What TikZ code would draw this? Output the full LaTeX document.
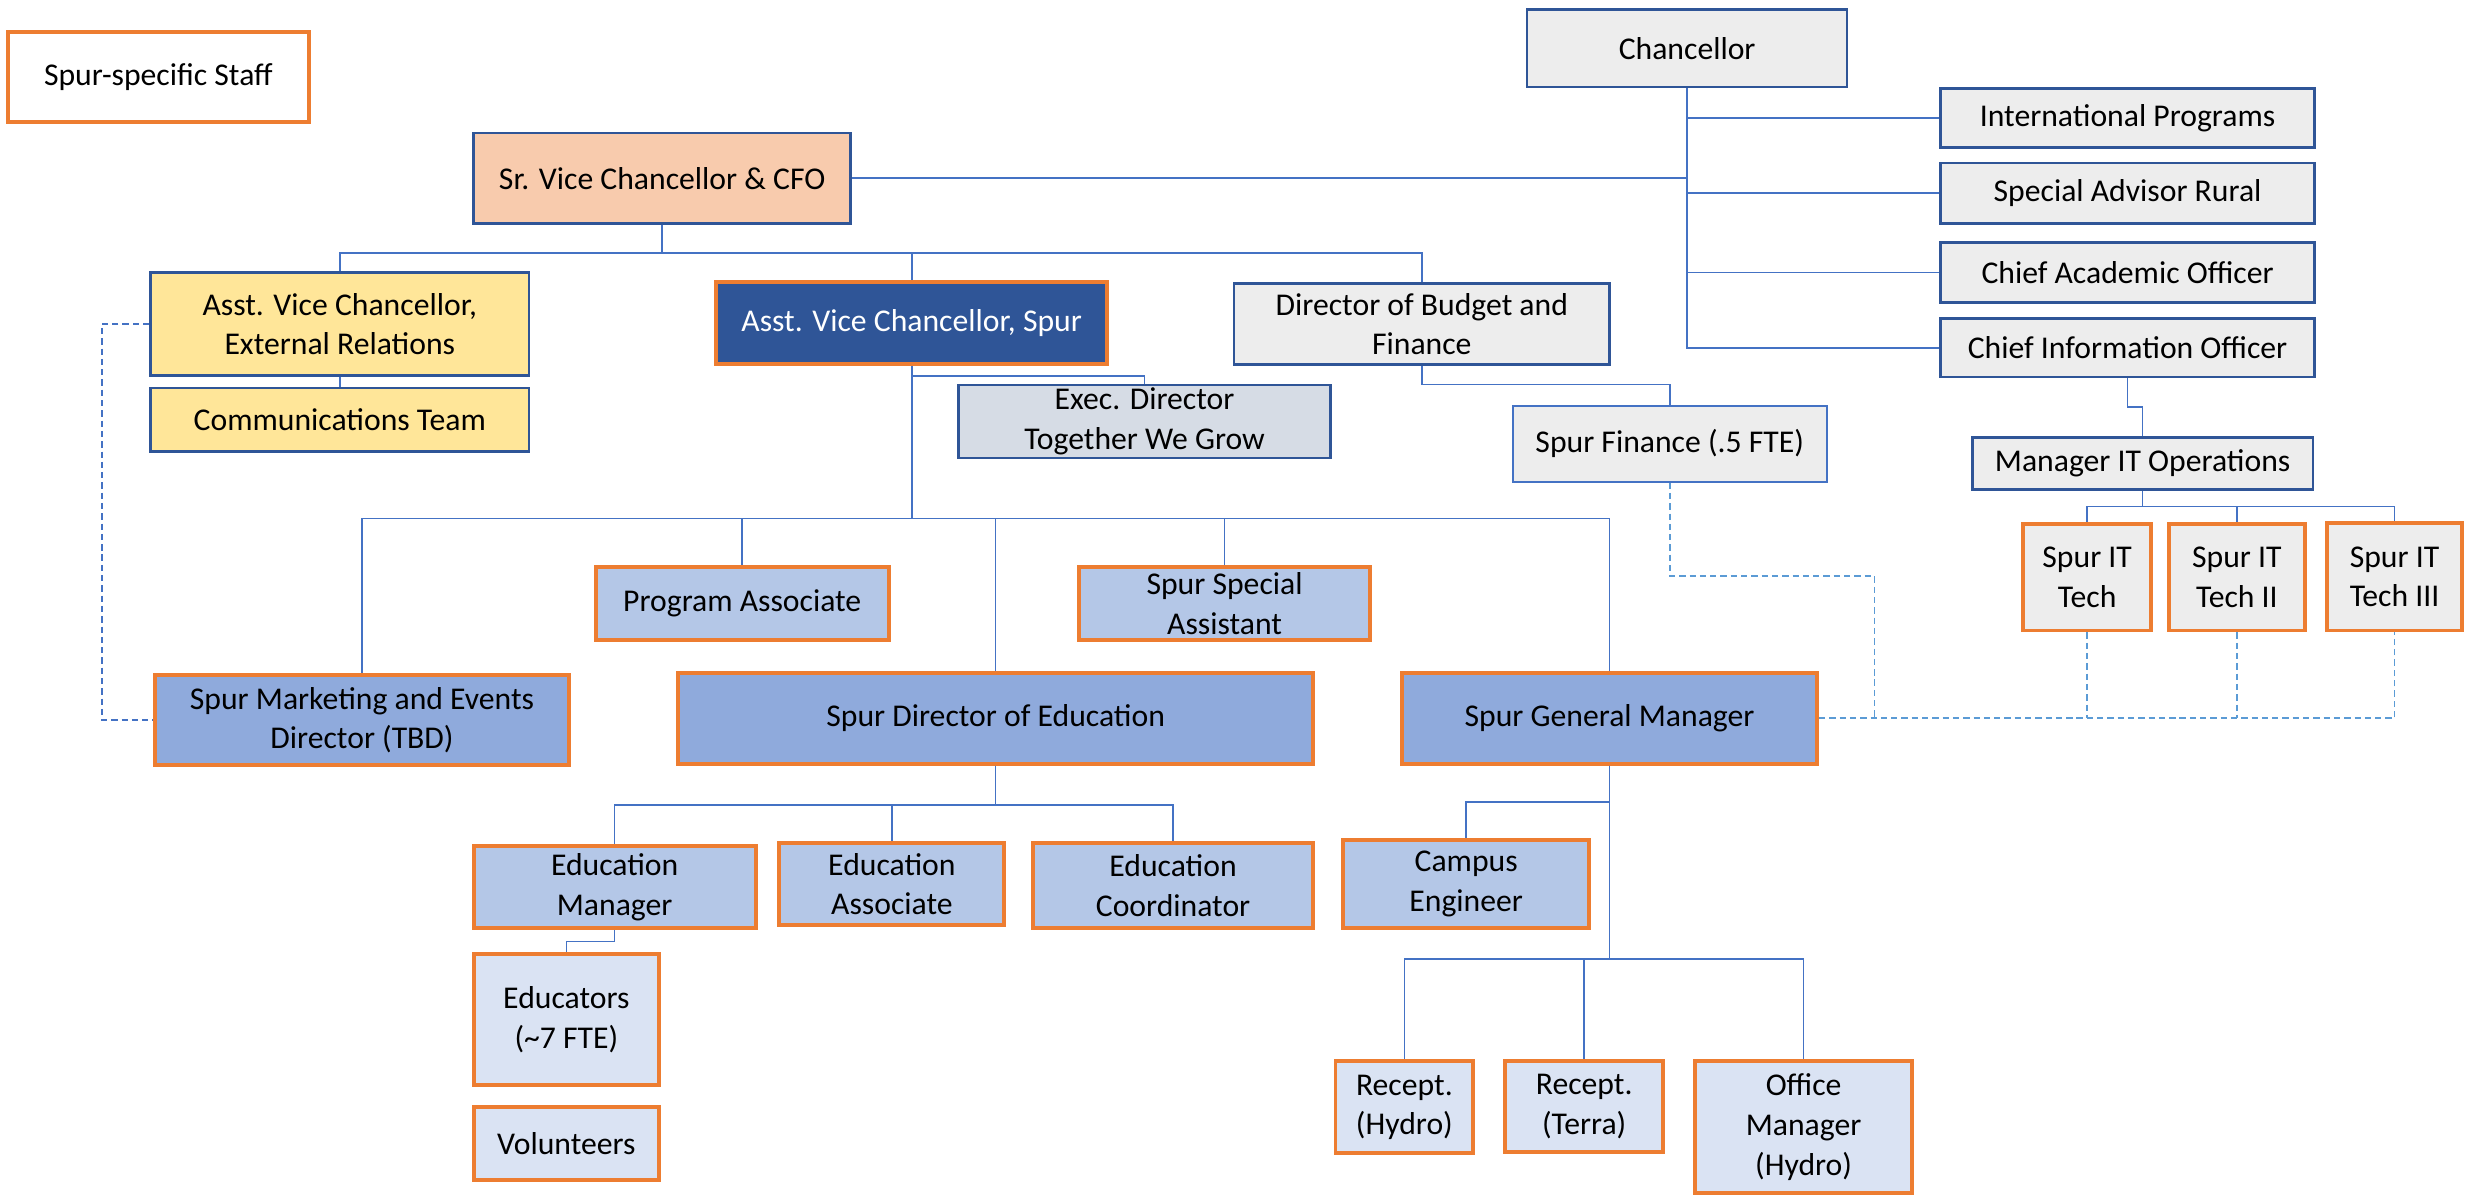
\documentclass[tikz,border=0pt]{standalone}
\usepackage{fontspec}
\setmainfont{Carlito}
\definecolor{dkb}{HTML}{2F5597}
\definecolor{org}{HTML}{ED7D31}
\definecolor{ln}{HTML}{4472C4}
\definecolor{dl}{HTML}{5B9BD5}
\definecolor{gry}{HTML}{EDEDED}
\definecolor{peach}{HTML}{F8CBAD}
\definecolor{yel}{HTML}{FFE699}
\definecolor{bA}{HTML}{8FAADC}
\definecolor{bB}{HTML}{B4C7E7}
\definecolor{bC}{HTML}{DAE3F3}
\definecolor{edc}{HTML}{D6DCE5}
\definecolor{navy}{HTML}{2F5597}
\tikzset{
 box/.style={draw, align=center, inner sep=0pt, font=\fontsize{20}{25}\selectfont},
 blueb/.style={box, draw=dkb, line width=1.6pt},
 finb/.style={box, draw=ln, line width=1.3pt},
 orgb/.style={box, draw=org, line width=2.5pt},
 conn/.style={draw=ln, line width=1pt},
 dconn/.style={draw=dl, line width=1.2pt, dash pattern=on 4pt off 2.5pt},
}
\newcommand\bx[7]{\node[#6, minimum width={(#4)-(#2)}, minimum height={(#5)-(#3)}] (#1) at ({((#2)+(#4))/2},{((#3)+(#5))/2}) {#7};}
\begin{document}
\begin{tikzpicture}[x=1pt,y=-1pt]
\useasboundingbox[fill=white] (0,0) rectangle (1568,755);
\bx{leg}{5}{20}{195}{77}{orgb, fill=white}{Spur-specific Staff}
\bx{chan}{964}{6}{1166}{55}{blueb, fill=gry}{Chancellor}
\bx{ip}{1225}{56}{1461}{93}{blueb, fill=gry}{International Programs}
\bx{sar}{1225}{103}{1461}{141}{blueb, fill=gry}{Special Advisor Rural}
\bx{cao}{1225}{153}{1461}{191}{blueb, fill=gry}{Chief Academic Officer}
\bx{cio}{1225}{201}{1461}{238}{blueb, fill=gry}{Chief Information Officer}
\bx{srvc}{299}{84}{537}{141}{blueb, fill=peach}{Sr. Vice Chancellor \& CFO}
\bx{avcer}{95}{172}{334}{237}{blueb, fill=yel}{Asst. Vice Chancellor,\\External Relations}
\bx{comm}{95}{245}{334}{285}{blueb, fill=yel}{Communications Team}
\bx{avcs}{452}{178}{699}{230}{orgb, fill=navy, text=white}{Asst. Vice Chancellor, Spur}
\bx{ed}{605}{243}{840}{289}{blueb, fill=edc}{Exec. Director\\Together We Grow}
\bx{dbf}{779}{179}{1016}{230}{blueb, fill=gry}{Director of Budget and\\Finance}
\bx{sf}{955}{256}{1153}{304}{finb, fill=gry}{Spur Finance (.5 FTE)}
\bx{mito}{1245}{276}{1460}{309}{blueb, fill=gry}{Manager IT Operations}
\bx{t1}{1277}{331}{1358}{398}{orgb, fill=gry}{Spur IT\\Tech}
\bx{t2}{1369}{331}{1455}{398}{orgb, fill=gry}{Spur IT\\Tech II}
\bx{t3}{1469}{330}{1554}{398}{orgb, fill=gry}{Spur IT\\Tech III}
\bx{pa}{376}{358}{561}{404}{orgb, fill=bB}{Program Associate}
\bx{ssa}{681}{358}{865}{404}{orgb, fill=bB}{Spur Special\\Assistant}
\bx{mkt}{98}{426}{359}{483}{orgb, fill=bA}{Spur Marketing and Events\\Director (TBD)}
\bx{sde}{428}{425}{829}{482}{orgb, fill=bA}{Spur Director of Education}
\bx{sgm}{885}{425}{1147}{482}{orgb, fill=bA}{Spur General Manager}
\bx{em}{299}{534}{477}{586}{orgb, fill=bB}{Education\\Manager}
\bx{ea}{492}{532}{634}{584}{orgb, fill=bB}{Education\\Associate}
\bx{ec}{652}{532}{829}{586}{orgb, fill=bB}{Education\\Coordinator}
\bx{educ}{299}{602}{416}{685}{orgb, fill=bC}{Educators\\(\textasciitilde7 FTE)}
\bx{vol}{299}{699}{416}{745}{orgb, fill=bC}{Volunteers}
\bx{ce}{848}{530}{1003}{586}{orgb, fill=bB}{Campus\\Engineer}
\bx{rh}{843}{670}{930}{728}{orgb, fill=bC}{Recept.\\(Hydro)}
\bx{rt}{950}{670}{1050}{727}{orgb, fill=bC}{Recept.\\(Terra)}
\bx{om}{1070}{670}{1207}{753}{orgb, fill=bC}{Office\\Manager\\(Hydro)}
% chancellor tree
\draw[conn] (chan.south) |- (ip.west);
\draw[conn] (chan.south) |- (sar.west);
\draw[conn] (chan.south) |- (cao.west);
\draw[conn] (chan.south) |- (cio.west);
\draw[conn] (srvc.east) -- (srvc.east -| chan.south);
% sr vc tree
\draw[conn] (srvc.south) -- ++(0,18) -| (avcer.north);
\draw[conn] (srvc.south) -- ++(0,18) -| (avcs.north);
\draw[conn] (srvc.south) -- ++(0,18) -| (dbf.north);
\draw[conn] (avcer.south) -- (comm.north);
\draw[conn] (avcs.south) -- ++(0,6) -| (ed.north);
\draw[conn] (avcs.south) -- ++(0,96) -| (mkt.north);
\draw[conn] (avcs.south) -- ++(0,96) -| (pa.north);
\draw[conn] (avcs.south) -- ++(0,96) -| (sde.north);
\draw[conn] (avcs.south) -- ++(0,96) -| (ssa.north);
\draw[conn] (avcs.south) -- ++(0,96) -| (sgm.north);
\draw[conn] (dbf.south) -- ++(0,12) -| (sf.north);
\draw[conn] (cio.south) -- ++(0,18) -| (mito.north);
\draw[conn] (mito.south) -- ++(0,10) -| (t1.north);
\draw[conn] (mito.south) -- ++(0,10) -| (t2.north);
\draw[conn] (mito.south) -- ++(0,10) -| (t3.north);
\draw[conn] (sde.south) -- ++(0,25) -| (em.north);
\draw[conn] (sde.south) -- ++(0,25) -| (ea.north);
\draw[conn] (sde.south) -- ++(0,25) -| (ec.north);
\draw[conn] (em.south) -- ++(0,7) -| (educ.north);
\draw[conn] (sgm.south) -- ++(0,23) -| (ce.north);
\draw[conn] (sgm.south) -- ++(0,122) -| (rh.north);
\draw[conn] (sgm.south) -- ++(0,122) -| (rt.north);
\draw[conn] (sgm.south) -- ++(0,122) -| (om.north);
% dashed
\draw[dconn, draw=ln] (avcer.west) -- ++(-30,0) |- (mkt.west);
\draw[dconn] (sgm.east) -| (t3.south);
\draw[dconn] (t1.south) -- (t1.south |- sgm.east);
\draw[dconn] (t2.south) -- (t2.south |- sgm.east);
\path (sgm.east) ++(35,0) coordinate (jf);
\draw[dconn] (sf.south) -- ++(0,59) -| (jf);
\end{tikzpicture}
\end{document}
